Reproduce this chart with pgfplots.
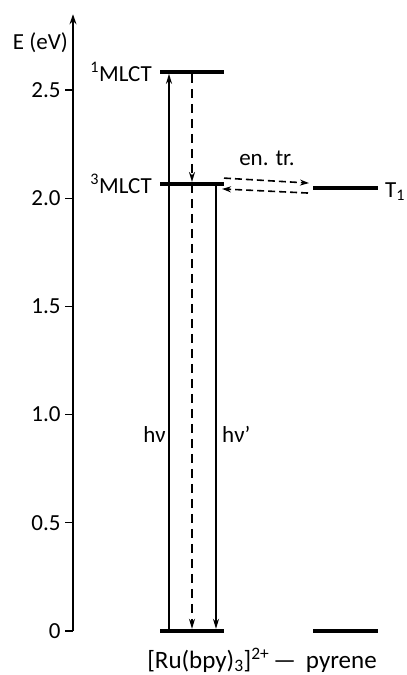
\documentclass[border=0pt]{standalone}
\usepackage{pgfplots}
\pgfplotsset{compat=1.18}
\usepackage{fontspec}
\setmainfont{Carlito}
\usetikzlibrary{arrows.meta}
\begin{document}
\begin{tikzpicture}[font=\fontsize{23}{27}\selectfont]
\begin{axis}[
  at={(73pt,44pt)}, anchor=south west,
  scale only axis, width=327pt, height=616.7pt,
  xmin=73, xmax=400, ymin=0, ymax=2.85,
  axis x line=none, axis y line=left,
  y axis line style={line width=1.3pt,-{Stealth[length=10pt,width=7pt]}},
  ytick={0,0.5,1.0,1.5,2.0,2.5},
  yticklabels={0,0.5,1.0,1.5,2.0,2.5},
  tick align=outside, major tick length=8pt,
  every tick/.style={black,line width=1.3pt},
  /pgf/number format/assume math mode=true,
  yticklabel style={font=\fontsize{23}{27}\selectfont, xshift=-1pt},
  clip=false,
]
% levels
\addplot[black,line width=3.2pt] coordinates {(160,2.583) (224,2.583)};
\addplot[black,line width=3.2pt] coordinates {(160,2.066) (224,2.066)};
\addplot[black,line width=3.2pt] coordinates {(160,0) (224,0)};
\addplot[black,line width=3.2pt] coordinates {(313,0) (378,0)};
\addplot[black,line width=3.2pt] coordinates {(313,2.047) (378,2.047)};
% absorption
\addplot[black,line width=1.8pt,-{Stealth[length=10pt,width=6pt]}] coordinates {(169,0) (169,2.575)};
% ISC dashed
\addplot[black,line width=1.8pt,dash pattern=on 9pt off 6pt,-{Stealth[length=10pt,width=6pt]}] coordinates {(192,2.575) (192,2.075)};
\addplot[black,line width=1.8pt,dash pattern=on 9pt off 6pt,-{Stealth[length=10pt,width=6pt]}] coordinates {(192,2.066) (192,0.01)};
% emission
\addplot[black,line width=1.8pt,-{Stealth[length=10pt,width=6pt]}] coordinates {(216,2.066) (216,0.01)};
% energy transfer
\addplot[black,line width=1.6pt,dash pattern=on 7pt off 4pt,-{Stealth[length=9pt,width=6pt]}] coordinates {(224,2.093) (309,2.070)};
\addplot[black,line width=1.6pt,dash pattern=on 7pt off 4pt,-{Stealth[length=9pt,width=6pt]}] coordinates {(308,2.024) (222,2.043)};
% labels
\node[anchor=east,inner sep=0pt] at (axis cs:152,2.583) {\textsuperscript{1}MLCT};
\node[anchor=east,inner sep=0pt] at (axis cs:152,2.066) {\textsuperscript{3}MLCT};
\node[anchor=west,inner sep=0pt] at (axis cs:385,2.030) {T\textsubscript{1}};
\node[inner sep=0pt] at (axis cs:267,2.186) {en. tr.};
\node[anchor=east,inner sep=0pt] at (axis cs:166,0.91) {hν};
\node[anchor=west,inner sep=0pt] at (axis cs:222,0.91) {hν’};
\node[anchor=east,inner sep=0pt] at (axis cs:68,2.72) {E (eV)};
\node[inner sep=0pt,anchor=base,font=\fontsize{25}{29}\selectfont] at (axis cs:262,-0.172) {[Ru(bpy)\textsubscript{3}]\textsuperscript{2+}\hspace{4pt}—\hspace{10pt}pyrene};
\end{axis}
\pgfresetboundingbox
\path (0,0) rectangle (407pt,675pt);
\end{tikzpicture}
\end{document}
